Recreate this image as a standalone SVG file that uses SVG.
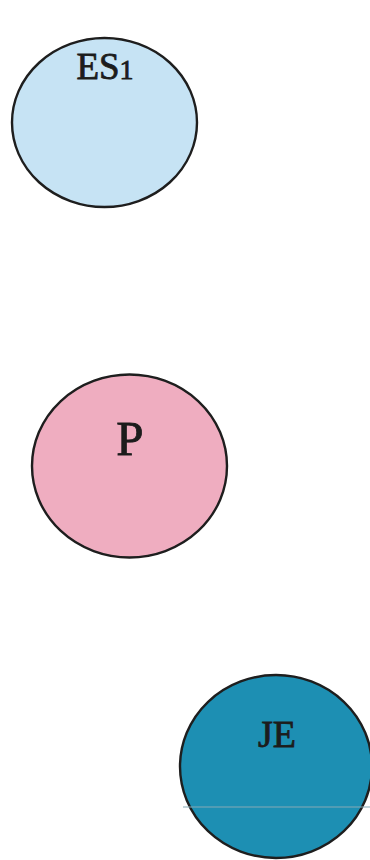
<svg xmlns="http://www.w3.org/2000/svg" width="370" height="860" viewBox="0 0 370 860">
<style>
.node{stroke:#1e1e1e;stroke-width:2.4}
.lbl{font-family:"Liberation Serif","DejaVu Serif",serif;fill:#1c1c1c;text-anchor:middle;stroke:#1c1c1c;stroke-width:0.8}
</style>
<rect width="370" height="860" fill="#ffffff"/>
<g id="connectors"></g>
<g id="node-ES1">
<ellipse class="node" cx="104.5" cy="122.5" rx="92.5" ry="84.5" fill="#c6e3f4"/>
<text class="lbl" x="105" y="79" font-size="37">ES<tspan font-size="28">1</tspan></text>
</g>
<g id="node-P">
<ellipse class="node" cx="129.5" cy="466" rx="97.5" ry="91.5" fill="#efadc0"/>
<text class="lbl" x="130" y="455" font-size="49">P</text>
</g>
<g id="node-JE">
<ellipse class="node" cx="276" cy="766.5" rx="96" ry="91.5" fill="#1d8fb3"/>
<line x1="183" y1="807" x2="370" y2="807" stroke="#86aab5" stroke-width="1.2"/>
<text class="lbl" x="277" y="747" font-size="38">JE</text>
</g>
</svg>
